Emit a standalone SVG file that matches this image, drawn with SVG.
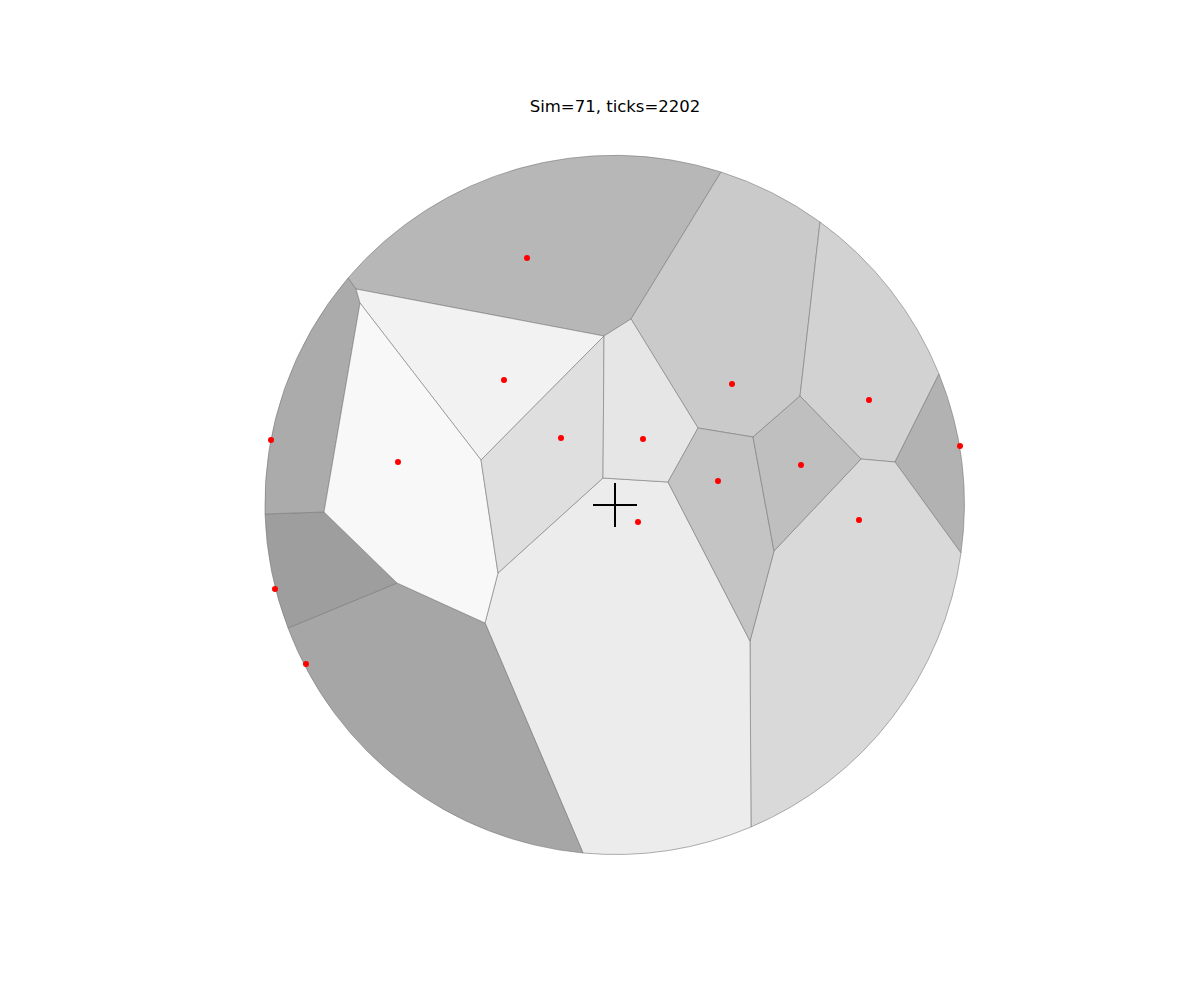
<svg xmlns="http://www.w3.org/2000/svg" width="1200" height="1000" viewBox="0 0 1200 1000">
<style>
.c{stroke:#7a7a7a;stroke-width:0.6;stroke-linejoin:round}
.p{fill:#ff0000}
.t{font-family:"DejaVu Sans",sans-serif;font-size:16.5px;fill:#000}
</style>
<rect width="1200" height="1000" fill="#ffffff"/>
<text class="t" x="615" y="112" text-anchor="middle">Sim=71, ticks=2202</text>
<g id="cells">
<path id="cell-top" class="c" fill="#b7b7b7" d="M348,278 A350,350 0 0 1 721,172 L631,319 L604,336 L356,289 Z"/>
<path id="cell-tr1" class="c" fill="#cacaca" d="M721,172 A350,350 0 0 1 820,222 L800,396 L753,437 L698,428 L631,319 Z"/>
<path id="cell-tr2" class="c" fill="#d2d2d2" d="M820,222 A350,350 0 0 1 939,374 L895,462 L861,459 L800,396 Z"/>
<path id="cell-r" class="c" fill="#b2b2b2" d="M939,374 A350,350 0 0 1 961,553 L895,462 Z"/>
<path id="cell-br" class="c" fill="#d9d9d9" d="M961,553 A350,350 0 0 1 751,827 L750,641 L774,551 L861,459 L895,462 Z"/>
<path id="cell-b" class="c" fill="#ececec" d="M751,827 A350,350 0 0 1 583,853 L485,623 L498,573 L603,478 L668,482 L750,641 Z"/>
<path id="cell-bl" class="c" fill="#a6a6a6" d="M583,853 A350,350 0 0 1 288,628 L397,583 L485,623 Z"/>
<path id="cell-l2" class="c" fill="#9e9e9e" d="M288,628 A350,350 0 0 1 265,514 L324,512 L397,583 Z"/>
<path id="cell-l1" class="c" fill="#ababab" d="M265,514 A350,350 0 0 1 348,278 L356,289 L360,303 L324,512 Z"/>
<path id="cell-f2" class="c" fill="#f2f2f2" d="M356,289 L604,336 L481,460 L360,303 Z"/>
<path id="cell-f8" class="c" fill="#f8f8f8" d="M360,303 L481,460 L498,573 L485,623 L397,583 L324,512 Z"/>
<path id="cell-df" class="c" fill="#dfdfdf" d="M481,460 L604,336 L603,478 L498,573 Z"/>
<path id="cell-e6" class="c" fill="#e6e6e6" d="M604,336 L631,319 L698,428 L668,482 L603,478 Z"/>
<path id="cell-c4" class="c" fill="#c4c4c4" d="M698,428 L753,437 L774,551 L750,641 L668,482 Z"/>
<path id="cell-bf" class="c" fill="#bfbfbf" d="M753,437 L800,396 L861,459 L774,551 Z"/>
</g>
<g id="points">
<circle class="p" cx="527" cy="258" r="3"/>
<circle class="p" cx="504" cy="380" r="3"/>
<circle class="p" cx="398" cy="462" r="3"/>
<circle class="p" cx="561" cy="438" r="3"/>
<circle class="p" cx="643" cy="439" r="3"/>
<circle class="p" cx="732" cy="384" r="3"/>
<circle class="p" cx="869" cy="400" r="3"/>
<circle class="p" cx="960" cy="446" r="3"/>
<circle class="p" cx="801" cy="465" r="3"/>
<circle class="p" cx="718" cy="481" r="3"/>
<circle class="p" cx="859" cy="520" r="3"/>
<circle class="p" cx="638" cy="522" r="3"/>
<circle class="p" cx="271" cy="440" r="3"/>
<circle class="p" cx="275" cy="589" r="3"/>
<circle class="p" cx="306" cy="664" r="3"/>
</g>
<g id="cross" stroke="#000" stroke-width="2">
<line x1="593" y1="505" x2="637" y2="505"/>
<line x1="615" y1="483" x2="615" y2="527"/>
</g>
</svg>
